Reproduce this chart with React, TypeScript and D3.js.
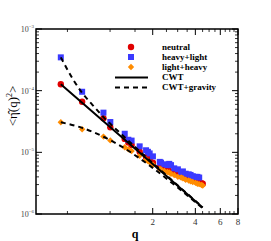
import React from "react";
import * as d3 from "d3";

// mode wavenumbers and spectra
const qNeutral = [0.449, 0.635, 0.898, 1.004, 1.269, 1.346, 1.419, 1.618, 1.795, 1.85, 1.904, 2.007, 2.244, 2.288, 2.417, 2.539, 2.617, 2.693, 2.838, 3.011, 3.174, 3.267, 3.418, 3.59, 3.701, 3.835, 4.014, 4.138, 4.258, 4.42, 4.51];
const neutral = [1.27e-4, 6.6e-5, 3.57e-5, 2.55e-5, 1.65e-5, 1.45e-5, 1.32e-5, 1.02e-5, 8.4e-6, 7.9e-6, 7.5e-6, 6.8e-6, 5.7e-6, 5.6e-6, 5.3e-6, 5.1e-6, 5.0e-6, 4.8e-6, 4.6e-6, 4.3e-6, 4.1e-6, 4.0e-6, 3.8e-6, 3.7e-6, 3.6e-6, 3.5e-6, 3.4e-6, 3.3e-6, 3.25e-6, 3.15e-6, 3.1e-6];

const qHeavyLight = [0.449, 0.635, 0.898, 1.004, 1.269, 1.346, 1.419, 1.618, 1.795, 1.85, 1.904, 2.007, 2.244, 2.288, 2.417, 2.539, 2.617, 2.693, 2.838, 3.011, 3.174, 3.267, 3.418, 3.59, 3.701, 3.835, 4.014, 4.138, 4.258];
const heavyLight = [3.47e-4, 9.6e-5, 4.4e-5, 3.1e-5, 2.0e-5, 1.6e-5, 1.55e-5, 1.25e-5, 1.08e-5, 1.02e-5, 9.6e-6, 8.6e-6, 7.0e-6, 6.8e-6, 6.4e-6, 6.2e-6, 6.5e-6, 6.2e-6, 5.5e-6, 5.3e-6, 4.8e-6, 4.9e-6, 4.5e-6, 4.4e-6, 4.3e-6, 4.1e-6, 4.0e-6, 4.0e-6, 3.9e-6];

const qLightHeavy = [0.449, 0.635, 0.898, 1.004, 1.269, 1.346, 1.419, 1.618, 1.795, 1.85, 1.904, 2.007, 2.244, 2.288, 2.417, 2.539, 2.617, 2.693, 2.838, 3.011, 3.174, 3.267, 3.418, 3.59, 3.701, 3.835, 4.014, 4.138, 4.258, 4.42, 4.51];
const lightHeavy = [3.07e-5, 2.37e-5, 1.8e-5, 1.56e-5, 1.21e-5, 1.12e-5, 1.05e-5, 8.8e-6, 7.6e-6, 7.2e-6, 6.9e-6, 6.3e-6, 5.4e-6, 5.3e-6, 5.0e-6, 4.8e-6, 4.7e-6, 4.5e-6, 4.3e-6, 4.0e-6, 3.9e-6, 3.8e-6, 3.6e-6, 3.5e-6, 3.4e-6, 3.3e-6, 3.2e-6, 3.1e-6, 3.05e-6, 2.95e-6, 2.9e-6];

// theory curves
const qCwt = [0.449, 1.0, 2.0, 4.5];
const cwt = [1.27e-4, 2.57e-5, 6.45e-6, 1.28e-6];
const qGravUp = [0.449, 0.55, 0.635, 0.75, 0.898, 1.2, 1.6, 2.0, 3.0, 4.5];
const gravUp = [3.47e-4, 1.5e-4, 9.2e-5, 5.9e-5, 3.73e-5, 1.98e-5, 1.07e-5, 6.7e-6, 2.92e-6, 1.29e-6];
const qGravLow = [0.449, 0.635, 0.898, 1.2, 1.6, 2.0, 3.0, 4.5];
const gravLow = [3.07e-5, 2.49e-5, 1.79e-5, 1.25e-5, 8.1e-6, 5.6e-6, 2.69e-6, 1.24e-6];

const xMajor = [2, 4, 6, 8];
const xMinor = [0.5, 1, 1.5, 2.5, 3, 3.5, 4.5, 5, 5.5, 6.5, 7, 7.5];
const yDecades = [-6, -5, -4, -3];

const legendLabels = ["neutral", "heavy+light", "light+heavy", "CWT", "CWT+gravity"];

const W = 271;
const H = 241;
const L = 36, R = 238, T = 29, B = 214;

const RED = "#e00000";
const BLUE = "#3a3aff";
const ORANGE = "#ff8c00";

function Diamond({ cx, cy }: { cx: number; cy: number }) {
  const s = 3.2;
  return <path d={`M${cx},${cy - s}L${cx + s},${cy}L${cx},${cy + s}L${cx - s},${cy}Z`} fill={ORANGE} />;
}

export default function App() {
  const x = d3.scaleLog().domain([0.3, 8]).range([L, R]);
  const y = d3.scaleLog().domain([1e-6, 1e-3]).range([B, T]);

  const line = (qs: number[], vs: number[]) =>
    d3.line<number>().x((d, i) => x(qs[i])).y((d) => y(d)).curve(d3.curveMonotoneX)(vs) || "";

  const yMinor: number[] = [];
  for (let e = -6; e < -3; e++) for (let k = 2; k <= 9; k++) yMinor.push(k * Math.pow(10, e));

  const font = "'Liberation Serif', 'DejaVu Serif', serif";

  return (
    <svg width={W} height={H} style={{ position: "absolute", left: 0, top: 0, background: "#fff" }} fontFamily={font}>
      {/* data */}
      {neutral.map((v, i) => (
        <circle key={"n" + i} cx={x(qNeutral[i])} cy={y(v)} r={3.2} fill={RED} />
      ))}
      {heavyLight.map((v, i) => (
        <rect key={"h" + i} x={x(qHeavyLight[i]) - 3} y={y(v) - 3} width={6} height={6} fill={BLUE} />
      ))}
      {lightHeavy.map((v, i) => (
        <Diamond key={"l" + i} cx={x(qLightHeavy[i])} cy={y(v)} />
      ))}

      {/* theory */}
      <path d={line(qCwt, cwt)} fill="none" stroke="#000" strokeWidth={2} />
      <path d={line(qGravUp, gravUp)} fill="none" stroke="#000" strokeWidth={2} strokeDasharray="5,4" />
      <path d={line(qGravLow, gravLow)} fill="none" stroke="#000" strokeWidth={2} strokeDasharray="5,4" />

      {/* frame */}
      <rect x={L} y={T} width={R - L} height={B - T} fill="none" stroke="#000" strokeWidth={1.5} />

      {/* x ticks */}
      {xMajor.map((q) => (
        <g key={"xm" + q}>
          <line x1={x(q)} x2={x(q)} y1={B} y2={B - 6} stroke="#000" />
          <line x1={x(q)} x2={x(q)} y1={T} y2={T + 6} stroke="#000" />
          <text x={x(q)} y={B + 11} fontSize={9} textAnchor="middle" fill="#333">{q}</text>
        </g>
      ))}
      {xMinor.map((q) => (
        <g key={"xn" + q}>
          <line x1={x(q)} x2={x(q)} y1={B} y2={B - 3} stroke="#000" strokeWidth={0.8} />
          <line x1={x(q)} x2={x(q)} y1={T} y2={T + 3} stroke="#000" strokeWidth={0.8} />
        </g>
      ))}

      {/* y ticks */}
      {yDecades.map((e) => {
        const v = Math.pow(10, e);
        return (
          <g key={"ym" + e}>
            <line x1={L} x2={L + 6} y1={y(v)} y2={y(v)} stroke="#000" />
            <line x1={R} x2={R - 6} y1={y(v)} y2={y(v)} stroke="#000" />
            <text x={34} y={y(v) + 3} fontSize={8} textAnchor="end" fill="#444">
              10<tspan fontSize={5} dy={-4}>{"\u2212" + Math.abs(e)}</tspan>
            </text>
          </g>
        );
      })}
      {yMinor.map((v, i) => (
        <g key={"yn" + i}>
          <line x1={L} x2={L + 3} y1={y(v)} y2={y(v)} stroke="#000" strokeWidth={0.8} />
          <line x1={R} x2={R - 3} y1={y(v)} y2={y(v)} stroke="#000" strokeWidth={0.8} />
        </g>
      ))}

      {/* axis titles */}
      <text x={135} y={238} fontSize={12} fontWeight="bold" textAnchor="middle">q</text>
      <text transform="translate(17,106) rotate(-90)" fontSize={13} textAnchor="middle">
        {"<"}η̂(q)<tspan fontSize={8} dy={-5}>2</tspan><tspan dy={5}>{">"}</tspan>
      </text>

      {/* legend */}
      <circle cx={131} cy={47} r={3.2} fill={RED} />
      <rect x={128} y={54} width={6} height={6} fill={BLUE} />
      <Diamond cx={131} cy={67} />
      <line x1={115} x2={148} y1={77.5} y2={77.5} stroke="#000" strokeWidth={2} />
      <line x1={115} x2={148} y1={87.5} y2={87.5} stroke="#000" strokeWidth={2} strokeDasharray="5,4" />
      {legendLabels.map((t, i) => (
        <text key={t} x={162} y={50 + i * 10} fontSize={9} fontWeight="bold">{t}</text>
      ))}
    </svg>
  );
}
